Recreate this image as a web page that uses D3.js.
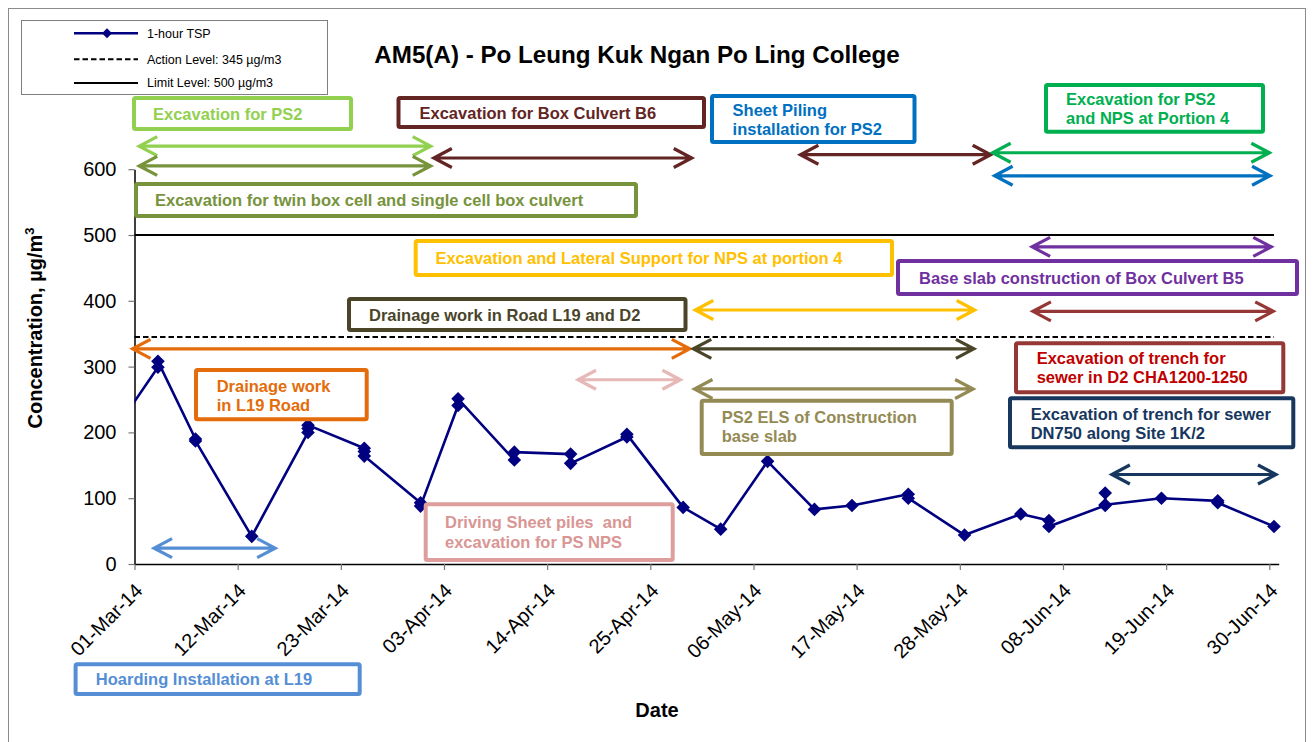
<!DOCTYPE html>
<html><head><meta charset="utf-8">
<script src="https://cdn.jsdelivr.net/npm/d3@7/dist/d3.min.js"></script>
<style>
body{margin:0;background:#fff}
svg{display:block}
text{font-family:"Liberation Sans",Arial,Helvetica,sans-serif}
</style>
</head><body>
<svg id="chart" width="1314" height="742"></svg>
<script>
// ---------------- DATA ----------------
const chartTitle = "AM5(A) - Po Leung Kuk Ngan Po Ling College";
// sampling days (1-hour TSP, measured around midday); first one lies before the axis start
const sampleDates = ["2014-02-26","2014-03-03","2014-03-07","2014-03-13","2014-03-19","2014-03-25",
  "2014-03-31","2014-04-04","2014-04-10","2014-04-16","2014-04-22","2014-04-28","2014-05-02",
  "2014-05-07","2014-05-12","2014-05-16","2014-05-22","2014-05-28","2014-06-03","2014-06-06",
  "2014-06-12","2014-06-18","2014-06-24","2014-06-30"];
const sampleValues = [[195],[299,308],[190,187],[42],[200,206,211],[176,171,164],
  [93,88],[241,251],[158,170],[167,153],[193,197],[86],[53],
  [156],[83],[89],[106,100],[44],[76],[66,57],
  [89,108,90],[100],[96,93],[57]];
const actionLevel = 345;
const limitLevel = 500;
const yTicks = [0,100,200,300,400,500,600];
const xTickDates = ["2014-03-01","2014-03-12","2014-03-23","2014-04-03","2014-04-14","2014-04-25",
  "2014-05-06","2014-05-17","2014-05-28","2014-06-08","2014-06-19","2014-06-30"];
const legendLabels = ["1-hour TSP","Action Level: 345 \u00b5g/m3","Limit Level: 500 \u00b5g/m3"];

// construction activities (period arrows: start, end, level in µg/m3 units)
const activityNames = ["PS2","Twin","B6","B6","PS2NPS","SheetPiling","B5","ELS_NPS","TrenchD2",
  "DrainL19","DrainD2","SheetPiles","PS2ELS","DN750","Hoarding"];
const activityStarts = ["2014-03-01T12:00","2014-03-01T12:00","2014-04-01T22:00","2014-05-11T00:00",
  "2014-05-31T12:00","2014-05-31T17:00","2014-06-04T17:00","2014-04-29T19:00","2014-06-04T19:00",
  "2014-02-28T19:00","2014-04-29T14:00","2014-04-17T07:00","2014-04-29T17:00","2014-06-13T05:00",
  "2014-03-03T02:00"];
const activityEnds = ["2014-04-01T14:00","2014-04-01T14:00","2014-04-29T10:00","2014-05-31T07:00",
  "2014-06-30T00:00","2014-06-30T02:00","2014-06-30T05:00","2014-05-29T14:00","2014-06-30T10:00",
  "2014-04-29T05:00","2014-05-29T12:00","2014-04-28T05:00","2014-05-29T10:00","2014-06-30T17:00",
  "2014-03-16T00:00"];
const activityLevels = [635,605,617,622,625,590,482,386,384,327,327,280,266,136,24];

// ---------------- LAYOUT / STYLE ----------------
const palette = {
  PS2:"#92D050", Twin:"#77933C", B6:"#632523", PS2NPS:"#00B050", SheetPiling:"#0070C0",
  B5:"#7030A0", ELS_NPS:"#FFC000", TrenchD2:"#953735", DrainL19:"#E46C0A", DrainD2:"#4A4529",
  SheetPiles:"#E6B9B8", PS2ELS:"#948A54", DN750:"#17375E", Hoarding:"#558ED5"
};
const notes = [
  {key:"PS2", box:[134,98,351,129], tx:153, lines:["Excavation for PS2"], by:[119.5]},
  {key:"Twin", box:[136,184,636,216], tx:155, lines:["Excavation for twin box cell and single cell box culvert"], by:[206]},
  {key:"B6", box:[398.5,98,704,127], tx:419.5, lines:["Excavation for Box Culvert B6"], by:[118.5]},
  {key:"SheetPiling", box:[712,96,914.5,142], tx:732.6, lines:["Sheet Piling","installation for PS2"], by:[116,135]},
  {key:"PS2NPS", box:[1046,85,1263,131.7], tx:1066, lines:["Excavation for PS2","and NPS at Portion 4"], by:[105,124]},
  {key:"ELS_NPS", box:[415.7,241,892,275], tx:435.4, lines:["Excavation and Lateral Support for NPS at portion 4"], by:[263.5]},
  {key:"B5", box:[898,261,1297,294], tx:919, lines:["Base slab construction of Box Culvert B5"], by:[283.5]},
  {key:"DrainD2", box:[349,299,685.5,330], tx:369, lines:["Drainage work in Road L19 and D2"], by:[320.5]},
  {key:"TrenchD2", box:[1016,343.3,1283.3,392.3], tx:1036.7, lines:["Excavation of trench for","sewer in D2 CHA1200-1250"], by:[363.5,383], text:"#C00000"},
  {key:"DrainL19", box:[196,370,366.7,419.3], tx:216.7, lines:["Drainage work","in L19 Road"], by:[391.5,410.5]},
  {key:"SheetPiles", box:[425.7,504.3,672.7,560], tx:445, lines:["Driving Sheet piles  and","excavation for PS NPS"], by:[528,547.5], stroke:"#DE9E9D", text:"#D99694"},
  {key:"PS2ELS", box:[701.7,400.7,951.7,454], tx:721.7, lines:["PS2 ELS of Construction","base slab"], by:[423,442]},
  {key:"DN750", box:[1010,398.3,1293.3,447.3], tx:1030.7, lines:["Excavation of trench for sewer","DN750 along Site 1K/2"], by:[419.5,438.5]},
  {key:"Hoarding", box:[75.6,664.3,359.7,694], tx:95.8, lines:["Hoarding Installation at L19"], by:[684.5]}
];

// ---------------- DRAW ----------------
const svg = d3.select("#chart");
const parseDay = d3.timeParse("%Y-%m-%d");
const parseDT = d3.timeParse("%Y-%m-%dT%H:%M");
const plotL = 134.5, plotR = 1278.7, plotB = 564, plotT = 169.2;
const x = d3.scaleTime().domain([parseDay("2014-03-01"), parseDay("2014-07-01")]).range([plotL, plotR]);
const y = d3.scaleLinear().domain([0, 600]).range([plotB, plotT]);

// outer chart border
svg.append("rect").attr("x",8.5).attr("y",8.5).attr("width",1297).attr("height",800)
  .attr("fill","none").attr("stroke","#8c8c8c").attr("stroke-width",1);

// clip for data
svg.append("defs").append("clipPath").attr("id","plotclip")
  .append("rect").attr("x",plotL).attr("y",0).attr("width",1314-plotL).attr("height",plotB+10);

// axes
const xAxis = d3.axisBottom(x).tickValues(xTickDates.map(parseDay))
  .tickFormat(d3.timeFormat("%d-%b-%y")).tickSize(6).tickSizeOuter(0);
const gx = svg.append("g").attr("transform",`translate(0,${plotB})`).call(xAxis);
gx.select(".domain").attr("stroke","#000").attr("stroke-width",1.5);
gx.selectAll(".tick line").attr("stroke","#777").attr("stroke-width",1.2);
gx.selectAll(".tick text").attr("x",0).attr("y",0).attr("dy","0.35em")
  .attr("text-anchor","end").attr("transform","translate(4,23) rotate(-45)")
  .attr("font-size","20px").attr("fill","#000")
  .style("font-family",'"Liberation Sans",Arial,sans-serif');

const yAxis = d3.axisLeft(y).tickValues(yTicks).tickSize(6).tickSizeOuter(0).tickPadding(12);
const gy = svg.append("g").attr("transform",`translate(${plotL},0)`).call(yAxis);
gy.select(".domain").attr("stroke","#000").attr("stroke-width",1.5);
gy.selectAll(".tick line").attr("stroke","#777").attr("stroke-width",1.2);
gy.selectAll(".tick text").attr("font-size","20px").attr("fill","#000")
  .style("font-family",'"Liberation Sans",Arial,sans-serif');

// level lines
const levelEnd = parseDT("2014-06-30T12:00");
svg.append("line").attr("x1",x(parseDay("2014-03-01"))).attr("x2",x(levelEnd))
  .attr("y1",y(limitLevel)).attr("y2",y(limitLevel)).attr("stroke","#000").attr("stroke-width",2);
svg.append("line").attr("x1",x(parseDay("2014-03-01"))).attr("x2",x(levelEnd))
  .attr("y1",y(actionLevel)).attr("y2",y(actionLevel)).attr("stroke","#000").attr("stroke-width",2)
  .attr("stroke-dasharray","5.5,3");

// activity arrows
function arrow(g, x1, x2, yy, color){
  const h = 18, w = 9.5;
  g.append("path").attr("d",
    `M${x1},${yy}L${x2},${yy}M${x1+h},${yy-w}L${x1},${yy}L${x1+h},${yy+w}M${x2-h},${yy-w}L${x2},${yy}L${x2-h},${yy+w}`)
    .attr("fill","none").attr("stroke",color).attr("stroke-width",3.2)
    .attr("stroke-linejoin","miter").attr("stroke-linecap","butt");
}
const ga = svg.append("g");
activityNames.forEach((k,i)=>{
  arrow(ga, x(parseDT(activityStarts[i])), x(parseDT(activityEnds[i])), y(activityLevels[i]), palette[k]);
});

// data series
const pts = [];
sampleDates.forEach((d,i)=>{
  const t = parseDT(d+"T12:00");
  sampleValues[i].forEach(v=>pts.push({t, v}));
});
const gd = svg.append("g").attr("clip-path","url(#plotclip)");
gd.append("path").datum(pts)
  .attr("d", d3.line().x(d=>x(d.t)).y(d=>y(d.v)))
  .attr("fill","none").attr("stroke","#000080").attr("stroke-width",2.6).attr("stroke-linejoin","round");
const diamond = "M0,-6.8L6.8,0L0,6.8L-6.8,0Z";
gd.selectAll("path.pt").data(pts).join("path").attr("class","pt")
  .attr("d",diamond).attr("transform",d=>`translate(${x(d.t)},${y(d.v)})`)
  .attr("fill","#000080");

// annotation boxes
const gn = svg.append("g");
notes.forEach(n=>{
  const c = palette[n.key];
  const [x0,y0,x1,y1] = n.box;
  gn.append("rect").attr("x",x0).attr("y",y0).attr("width",x1-x0).attr("height",y1-y0)
    .attr("fill","#fff").attr("stroke",n.stroke||c).attr("stroke-width",4).attr("rx",1.5);
  n.lines.forEach((ln,j)=>{
    gn.append("text").attr("x",n.tx).attr("y",n.by[j]).text(ln)
      .attr("font-size","16.5px").attr("font-weight","bold").attr("fill",n.text||c)
      .attr("xml:space","preserve").style("white-space","pre");
  });
});

// title
svg.append("text").attr("x",637).attr("y",63).attr("text-anchor","middle")
  .attr("font-size","24.2px").attr("font-weight","bold").text(chartTitle);

// axis titles
const yt = svg.append("text").attr("transform","translate(42,328) rotate(-90)")
  .attr("text-anchor","middle").attr("font-size","20px").attr("font-weight","bold");
yt.append("tspan").text("Concentration, \u00b5g/m");
yt.append("tspan").attr("dy",-8).attr("font-size","13px").text("3");
svg.append("text").attr("x",657).attr("y",717).attr("text-anchor","middle")
  .attr("font-size","20px").attr("font-weight","bold").text("Date");

// legend
const lg = svg.append("g");
lg.append("rect").attr("x",21.5).attr("y",20.5).attr("width",306).attr("height",74)
  .attr("fill","#fff").attr("stroke","#7f7f7f").attr("stroke-width",1);
const rowsY = [33.3, 59.3, 83];
lg.append("line").attr("x1",74).attr("x2",138).attr("y1",rowsY[0]).attr("y2",rowsY[0])
  .attr("stroke","#000080").attr("stroke-width",2.6);
lg.append("path").attr("d","M0,-5L5,0L0,5L-5,0Z").attr("transform",`translate(107,${rowsY[0]})`).attr("fill","#000080");
lg.append("line").attr("x1",74).attr("x2",138).attr("y1",rowsY[1]).attr("y2",rowsY[1])
  .attr("stroke","#000").attr("stroke-width",2).attr("stroke-dasharray","5.5,3");
lg.append("line").attr("x1",74).attr("x2",138).attr("y1",rowsY[2]).attr("y2",rowsY[2])
  .attr("stroke","#000").attr("stroke-width",2);
legendLabels.forEach((t,i)=>{
  lg.append("text").attr("x",147).attr("y",rowsY[i]).attr("dy","0.35em")
    .attr("font-size","12.5px").attr("fill","#000").text(t);
});
</script>
</body></html>
